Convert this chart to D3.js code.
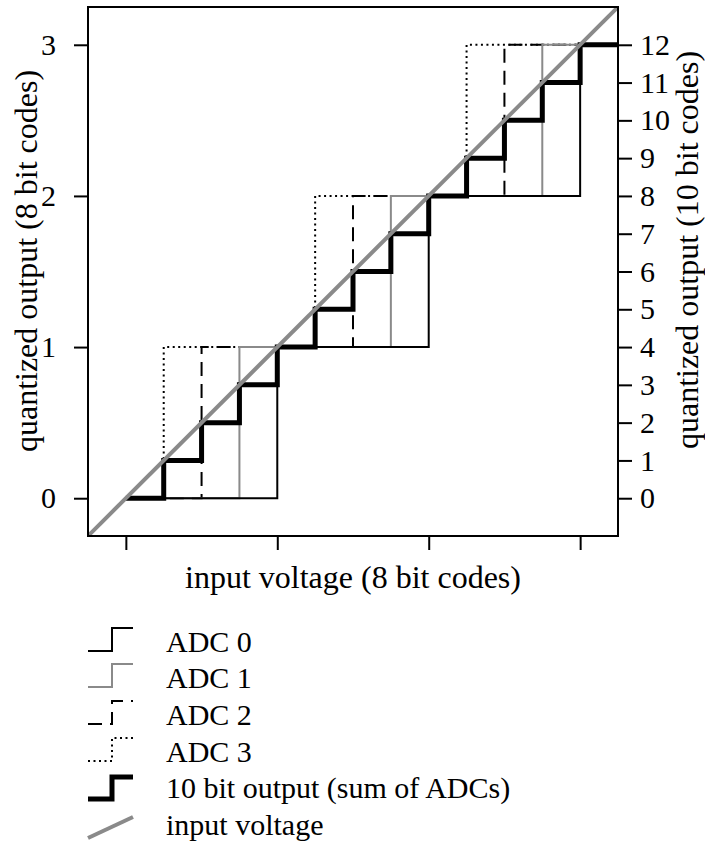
<!DOCTYPE html>
<html>
<head>
<meta charset="utf-8">
<script src="https://cdn.jsdelivr.net/npm/d3@7"></script>
</head>
<body style="margin:0; background:#fff">
<div id="chart"></div>
<script>
// data (input / output in 8 bit codes)
var xTicks = [0, 1, 2, 3];
var yTicks8 = [0, 1, 2, 3];
var yTicks10 = [0, 1, 2, 3, 4, 5, 6, 7, 8, 9, 10, 11, 12];
var adcLabels = ["ADC 0", "ADC 1", "ADC 2", "ADC 3"];
// input voltage at which each ADC steps up to code 1, 2, 3
var adcStepInputs = [
  [1, 2, 3],
  [0.75, 1.75, 2.75],
  [0.5, 1.5, 2.5],
  [0.25, 1.25, 2.25],
];
var adcCodes = [1, 2, 3];
// 10 bit output (sum of ADCs)
var outInputs = [0, 0.25, 0.5, 0.75, 1, 1.25, 1.5, 1.75, 2, 2.25, 2.5, 2.75, 3, 3.25];
var outCodes = [0, 1, 2, 3, 4, 5, 6, 7, 8, 9, 10, 11, 12, 12];
var inputRange = [-0.25, 3.25];
var legendLabels = adcLabels.concat(["10 bit output (sum of ADCs)", "input voltage"]);

var W = 705, H = 845;
var frame = { left: 88, right: 618, top: 7, bottom: 536 };
var gray = "#8a8a8a";
var fontFam = "'Liberation Serif', 'Times New Roman', serif";
var adcStyles = [
  { color: "#000", dash: null },
  { color: gray, dash: null },
  { color: "#000", dash: "14,8" },
  { color: "#000", dash: "2,3.5" },
];

var svg = d3.select("#chart").append("svg").attr("width", W).attr("height", H);

var xScale = d3.scaleLinear().domain(inputRange).range([frame.left, frame.right]);
var yScale = d3.scaleLinear().domain(inputRange).range([frame.bottom, frame.top]);
// same pixels, counted in 10 bit codes
var yScale10 = d3.scaleLinear().domain([inputRange[0] * 4, inputRange[1] * 4]).range([frame.bottom, frame.top]);

svg.append("clipPath").attr("id", "plotclip")
  .append("rect")
  .attr("x", frame.left).attr("y", frame.top)
  .attr("width", frame.right - frame.left).attr("height", frame.bottom - frame.top);

var plot = svg.append("g").attr("clip-path", "url(#plotclip)");

var stepLine = d3.line()
  .x(function (d) { return xScale(d[0]); })
  .y(function (d) { return yScale(d[1]); })
  .curve(d3.curveStepAfter);

// ADCs, drawn 3 first so ADC 0 ends up on top
for (var k = adcStepInputs.length - 1; k >= 0; k--) {
  var pts = [[0, 0]];
  adcStepInputs[k].forEach(function (v, i) { pts.push([v, adcCodes[i]]); });
  pts.push([inputRange[1], adcCodes[adcCodes.length - 1]]);
  plot.append("path")
    .attr("d", stepLine(pts))
    .attr("fill", "none")
    .attr("stroke", adcStyles[k].color)
    .attr("stroke-width", 2)
    .attr("stroke-dasharray", adcStyles[k].dash);
}

// 10 bit output
var outLine = d3.line()
  .x(function (d, i) { return xScale(outInputs[i]); })
  .y(function (d) { return yScale10(d); })
  .curve(d3.curveStepAfter);

plot.append("path")
  .attr("d", outLine(outCodes))
  .attr("fill", "none")
  .attr("stroke", "#000")
  .attr("stroke-width", 5)
  .attr("stroke-linejoin", "miter");

// input voltage
plot.append("path")
  .attr("d", d3.line()
    .x(function (d) { return xScale(d); })
    .y(function (d) { return yScale(d); })(inputRange))
  .attr("fill", "none")
  .attr("stroke", gray)
  .attr("stroke-width", 4);

// frame
svg.append("rect")
  .attr("x", frame.left).attr("y", frame.top)
  .attr("width", frame.right - frame.left).attr("height", frame.bottom - frame.top)
  .attr("fill", "none").attr("stroke", "#000").attr("stroke-width", 2);

// axes
var leftAxis = svg.append("g")
  .attr("transform", "translate(" + frame.left + ",0)")
  .call(d3.axisLeft(yScale).tickValues(yTicks8).tickSize(14).tickPadding(18).tickFormat(d3.format("d")));

var rightAxis = svg.append("g")
  .attr("transform", "translate(" + frame.right + ",0)")
  .call(d3.axisRight(yScale10).tickValues(yTicks10).tickSize(14).tickPadding(8).tickFormat(d3.format("d")));

var bottomAxis = svg.append("g")
  .attr("transform", "translate(0," + frame.bottom + ")")
  .call(d3.axisBottom(xScale).tickValues(xTicks).tickSize(14).tickFormat(""));

[leftAxis, rightAxis, bottomAxis].forEach(function (a) {
  a.select(".domain").remove();
  a.selectAll(".tick line").attr("stroke", "#000").attr("stroke-width", 2);
  a.selectAll(".tick text")
    .style("font-family", fontFam)
    .style("font-size", "30px")
    .attr("fill", "#000");
});

// axis titles
function title(txt, transform, x, y) {
  return svg.append("text")
    .attr("transform", transform)
    .attr("x", x).attr("y", y)
    .attr("text-anchor", "middle")
    .style("font-family", fontFam)
    .style("font-size", "32px")
    .attr("fill", "#000")
    .text(txt);
}
title("input voltage (8 bit codes)", null, (frame.left + frame.right) / 2, 588);
title("quantized output (8 bit codes)", "translate(37,261) rotate(-90)", 0, 0);
title("quantized output (10 bit codes)", "translate(698,250) rotate(-90)", 0, 0);

// legend
var legend = svg.append("g");
var rowY = [652, 688, 725, 762, 798, 835];
var iconStep = "M88,-1 H112 V-24 H133";

legendLabels.forEach(function (label, i) {
  var g = legend.append("g").attr("transform", "translate(0," + rowY[i] + ")");
  if (i < 4) {
    g.append("path")
      .attr("d", iconStep)
      .attr("fill", "none")
      .attr("stroke", adcStyles[i].color)
      .attr("stroke-width", 2)
      .attr("stroke-dasharray", adcStyles[i].dash);
  } else if (i == 4) {
    g.append("path")
      .attr("d", "M88,1 H112 V-21 H133")
      .attr("fill", "none")
      .attr("stroke", "#000")
      .attr("stroke-width", 5);
  } else {
    g.append("path")
      .attr("d", "M88,3 L133,-18")
      .attr("stroke", gray)
      .attr("stroke-width", 4);
  }
  g.append("text")
    .attr("x", 166)
    .attr("y", 0)
    .style("font-family", fontFam)
    .style("font-size", "30px")
    .attr("fill", "#000")
    .text(label);
});
</script>
</body>
</html>
